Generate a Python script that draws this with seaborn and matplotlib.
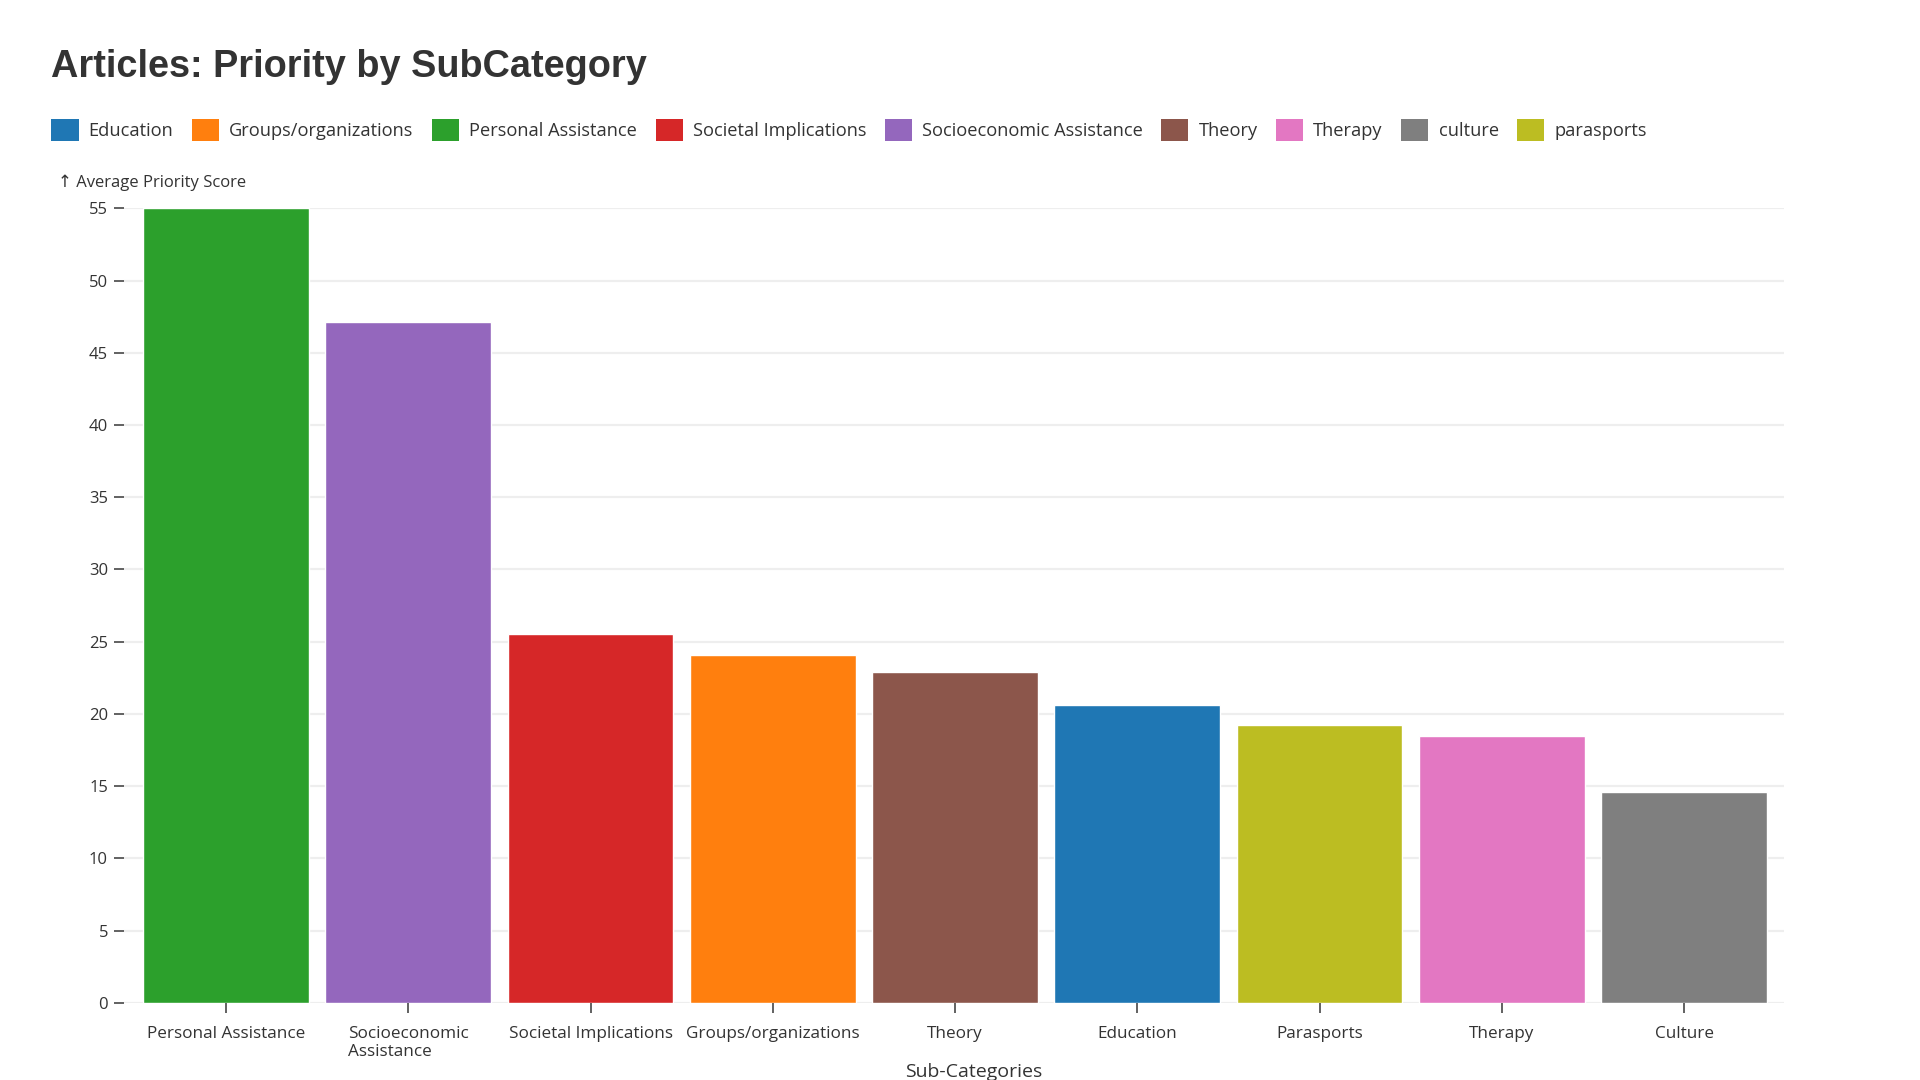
import matplotlib
matplotlib.use("Agg")
import matplotlib.pyplot as plt
from matplotlib.patches import Patch
import seaborn as sns
import pandas as pd

# ---- data ----
subcategories = ["Personal Assistance", "Socioeconomic Assistance", "Societal Implications",
                 "Groups/organizations", "Theory", "Education", "parasports", "Therapy", "culture"]
tick_labels = ["Personal Assistance", "Socioeconomic\nAssistance", "Societal Implications",
               "Groups/organizations", "Theory", "Education", "Parasports", "Therapy", "Culture"]
scores = [55.0, 47.1, 25.5, 24.1, 22.9, 20.6, 19.2, 18.5, 14.6]
legend_order = ["Education", "Groups/organizations", "Personal Assistance", "Societal Implications",
                "Socioeconomic Assistance", "Theory", "Therapy", "culture", "parasports"]
legend_colors = ["#1f77b4", "#ff7f0e", "#2ca02c", "#d62728", "#9467bd",
                 "#8c564b", "#e377c2", "#7f7f7f", "#bcbd22"]
y_ticks = [0, 5, 10, 15, 20, 25, 30, 35, 40, 45, 50, 55]

df = pd.DataFrame({"subcategory": subcategories, "label": tick_labels, "score": scores})
palette = dict(zip(legend_order, legend_colors))

sns.set_theme(style="white")
plt.rcParams["font.family"] = ["Open Sans", "DejaVu Sans"]

TXT = "#333333"
W, H = 1566.0, 881.0  # reference layout units

fig = plt.figure(figsize=(19.2, 10.8), dpi=100, facecolor="white")
ax_left, ax_right = 101 / W, 1455 / W
ax_top, ax_bottom = 1 - 170 / H, 1 - 818 / H
ax = fig.add_axes([ax_left, ax_bottom, ax_right - ax_left, ax_top - ax_bottom])

sns.barplot(data=df, x="label", y="score", hue="subcategory", order=tick_labels,
            hue_order=legend_order, palette=palette, dodge=False, width=0.91,
            saturation=1, legend=False, ax=ax, zorder=3)

ax.set_ylim(0, 55)
ax.set_xlim(-0.561, len(tick_labels) - 1 + 0.548)
ax.set_yticks(y_ticks)
ax.set_yticklabels([str(v) for v in y_ticks])

for s in ax.spines.values():
    s.set_visible(False)

ax.grid(axis="y", color="#eeeeee", linewidth=1.6, zorder=0)
ax.grid(axis="x", visible=False)
ax.set_axisbelow(True)

ax.tick_params(axis="y", which="major", direction="out", length=7, width=1.3,
               color="#555555", pad=4.4, labelsize=12, labelcolor=TXT, left=True)
ax.tick_params(axis="x", which="major", direction="out", length=7, width=1.3,
               color="#555555", pad=9.5, labelsize=12.3, labelcolor=TXT, bottom=True)
for lab in ax.get_xticklabels():
    lab.set_multialignment("left")
    lab.set_verticalalignment("top")

ax.set_ylabel("")
ax.set_xlabel("Sub-Categories", fontsize=14, color=TXT)
ax.xaxis.label.set_verticalalignment("top")
ax.xaxis.set_label_coords((794 - 101) / (1455 - 101), -(867 - 818) / (818 - 170))

# y-axis label above axis
fig.text(47 / W, 1 - 149 / H, "\u2191 Average Priority Score", fontsize=12, color=TXT,
         ha="left", va="center", family=["Open Sans", "DejaVu Sans"])

# title
fig.text(42 / W, 1 - 55 / H, "Articles: Priority by SubCategory", fontsize=27.3,
         fontweight="bold", color=TXT, ha="left", va="center", family=["Liberation Sans", "DejaVu Sans"])

# legend
handles = [Patch(facecolor=c, edgecolor="none", label=n) for n, c in zip(legend_order, legend_colors)]
leg = fig.legend(handles=handles, loc="center left", bbox_to_anchor=(42 / W, 1 - 106 / H),
                 ncol=len(handles), frameon=False, fontsize=13.15, handlelength=1.48,
                 handleheight=1.48, handletextpad=0.55, columnspacing=1.02, borderpad=0,
                 borderaxespad=0)
for t in leg.get_texts():
    t.set_color(TXT)

fig.savefig("out.png", dpi=100, facecolor="white")
